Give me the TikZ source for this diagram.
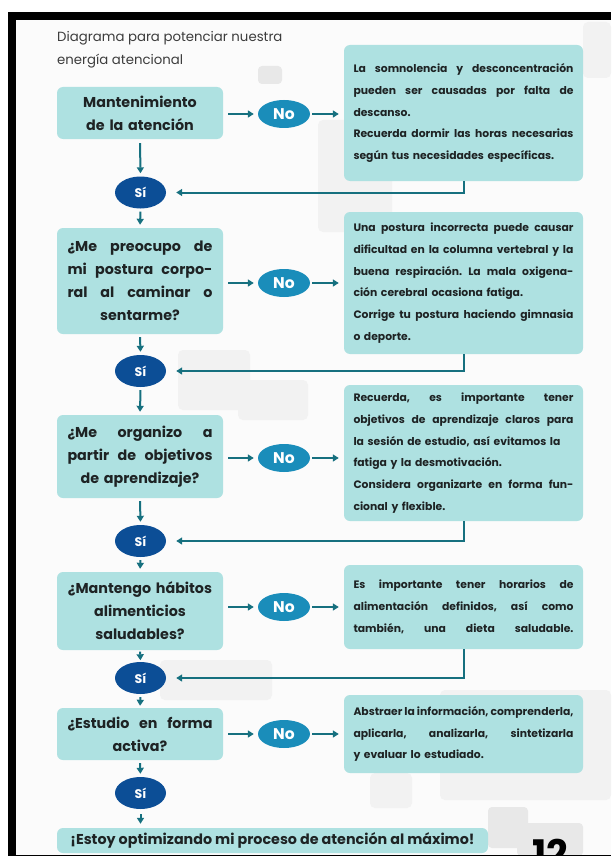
\documentclass[tikz,border=0pt]{standalone}
\usepackage{fontspec}
\setmainfont{Poppins}
\usetikzlibrary{arrows.meta,shapes.geometric}
\definecolor{boxc}{HTML}{AEE1E1}
\definecolor{noc}{HTML}{1A8DBA}
\definecolor{sic}{HTML}{0C4E96}
\definecolor{arrc}{HTML}{16707F}
\definecolor{txtc}{HTML}{1E2324}
\definecolor{titc}{HTML}{3C3C3C}
\definecolor{pagebg}{HTML}{FBFBFB}
\definecolor{sqa}{HTML}{F2F2F2}
\definecolor{sqb}{HTML}{E8E8E8}
\newcommand\qfont{\fontsize{14.3}{23}\selectfont\bfseries}
\newcommand\rfont{\fontsize{10.8}{21.7}\selectfont\bfseries}
\newcommand\jq[1]{\leavevmode\hbox to 145pt{#1}}
\newcommand\jr[1]{\leavevmode\hbox to 220pt{#1}}
\tikzset{
  qbox/.style={fill=boxc, rounded corners=6pt, text=txtc, font=\qfont, align=center, text width=145pt, inner sep=0pt, minimum width=166pt},
  rbox/.style={fill=boxc, rounded corners=6pt, text=txtc, font=\rfont, align=left, text width=220pt, inner sep=0pt, minimum width=239pt},
  noell/.style={ellipse, fill=noc, text=white, font=\fontsize{15.5}{17}\selectfont\bfseries, minimum width=52pt, minimum height=28pt, inner sep=0pt},
  siell/.style={ellipse, fill=sic, text=white, font=\fontsize{12.5}{14}\selectfont\bfseries, minimum width=51pt, minimum height=32pt, inner sep=0pt},
  conn/.style={draw=arrc, line width=2pt, -{Triangle[length=6pt,width=7pt]}},
  bgsq/.style={fill=sqa, rounded corners=5pt},
  bgsqd/.style={fill=sqb, rounded corners=4pt}
}
\begin{document}
\begin{tikzpicture}[x=1pt,y=-1pt]
\useasboundingbox (0,0) rectangle (611,856);
\fill[white] (0,0) rectangle (611,856);
\fill[pagebg] (16,20) rectangle (611,856);
% background decoration
\fill[bgsq] (318,120) rectangle (392,232);
\fill[bgsq] (583,22) rectangle (611,78);
\fill[bgsqd] (258,66) rectangle (282,84);
\fill[bgsq] (178,350) rectangle (250,410);
\fill[bgsq] (238,380) rectangle (308,420);
\fill[bgsq] (160,660) rectangle (272,700);
\fill[bgsq] (370,773) rectangle (412,808);
\fill[bgsq] (440,690) rectangle (611,800);
\fill[bgsqd] (488,807) rectangle (528,848);
\fill[bgsqd] (517,823) rectangle (583,856);
% frame
\fill[black] (8,12) rectangle (611,20);
\fill[black] (8,12) rectangle (16,856);
% title
\node[anchor=north west, align=left, text=titc, font=\fontsize{13.3}{23}\selectfont, inner sep=0pt] (title) at (57,31) {Diagrama para potenciar nuestra\\energía atencional};
% left boxes
\node[qbox, minimum height=52pt] (q1) at (140,113) {Mantenimiento\\de la atención};
\node[qbox, minimum height=106pt] (q2) at (140,281) {\jq{¿Me\hfill preocupo\hfill de}\\\jq{mi\hfill postura\hfill corpo-}\\\jq{ral\hfill al\hfill caminar\hfill o}\\sentarme?};
\node[qbox, minimum height=83pt] (q3) at (140,456.5) {\jq{¿Me\hfill organizo\hfill a}\\\jq{partir\hfill de\hfill objetivos}\\de aprendizaje?};
\node[qbox, minimum height=78pt] (q4) at (140,611) {¿Mantengo hábitos\\alimenticios\\saludables?};
\node[qbox, minimum height=52pt] (q5) at (140,734) {\jq{¿Estudio\hfill en\hfill forma}\\activa?};
\node[fill=boxc, rounded corners=6pt, text=txtc, font=\fontsize{14.3}{16}\selectfont\bfseries, minimum width=431pt, minimum height=25pt, inner sep=0pt] (fin) at (272.5,840.5) {¡Estoy optimizando mi proceso de atención al máximo!};
% No ellipses
\node[noell] (n1) at (284,114) {No};
\node[noell] (n2) at (284,283) {No};
\node[noell] (n3) at (284,458) {No};
\node[noell] (n4) at (284,607) {No};
\node[noell] (n5) at (284,734) {No};
% Si ellipses
\node[siell] (s1) at (140.5,192.5) {Sí};
\node[siell] (s2) at (140.5,371) {Sí};
\node[siell] (s3) at (140.5,541) {Sí};
\node[siell] (s4) at (140.5,678) {Sí};
\node[siell] (s5) at (140.5,793) {Sí};
% right boxes
\node[rbox, minimum height=136pt] (r1) at (463.5,113) {\jr{La\hfill somnolencia\hfill y\hfill desconcentración}\\\jr{pueden\hfill ser\hfill causadas\hfill por\hfill falta\hfill de}\\descanso.\\\jr{Recuerda\hfill dormir\hfill las\hfill horas\hfill necesarias}\\según tus necesidades específicas.};
\node[rbox, minimum height=142pt] (r2) at (463.5,283) {\jr{Una\hfill postura\hfill incorrecta\hfill puede\hfill causar}\\\jr{dificultad\hfill en\hfill la\hfill columna\hfill vertebral\hfill y\hfill la}\\\jr{buena\hfill respiración.\hfill La\hfill mala\hfill oxigena-}\\ción cerebral ocasiona fatiga.\\\jr{Corrige\hfill tu\hfill postura\hfill haciendo\hfill gimnasia}\\o deporte.};
\node[rbox, minimum height=136pt] (r3) at (463.5,453) {\jr{Recuerda,\hfill es\hfill importante\hfill tener}\\\jr{objetivos\hfill de\hfill aprendizaje\hfill claros\hfill para}\\la sesión de estudio, así evitamos la\\fatiga y la desmotivación.\\\jr{Considera\hfill organizarte\hfill en\hfill forma\hfill fun-}\\cional y flexible.};
\node[rbox, minimum height=84pt] (r4) at (463.5,607) {\jr{Es\hfill importante\hfill tener\hfill horarios\hfill de}\\\jr{alimentación\hfill definidos,\hfill así\hfill como}\\\jr{también,\hfill una\hfill dieta\hfill saludable.}};
\node[rbox, minimum height=78pt] (r5) at (463.5,734) {\jr{Abstraer\hfill la\hfill información,\hfill comprenderla,}\\\jr{aplicarla,\hfill analizarla,\hfill sintetizarla}\\y evaluar lo estudiado.};
% page number
\begin{scope}
\clip (0,0) rectangle (611,854.5);
\node[anchor=north west, font=\fontsize{38}{40}\selectfont\bfseries, text=black, inner sep=0pt] (pg) at (532,839) {12};
\end{scope}
\fill[black] (8,854.5) rectangle (611,856);
% connectors
\foreach \i in {1,...,5} {
  \draw[conn, shorten <=5pt, shorten >=4pt] (q\i.east |- n\i.west) -- (n\i.west);
  \draw[conn, shorten <=2pt, shorten >=5pt] (n\i.east) -- (r\i.west |- n\i.east);
}
\draw[conn, shorten <=4pt, shorten >=3pt] (q1.south) -- (s1.north);
\draw[conn, shorten <=3pt, shorten >=3pt] (q2.south) -- (s2.north);
\draw[conn, shorten <=3pt, shorten >=3pt] (q3.south) -- (s3.north);
\draw[conn, shorten <=1.5pt, shorten >=1.5pt] (q4.south) -- (s4.north);
\draw[conn, shorten <=3pt, shorten >=3pt] (q5.south) -- (s5.north);
\foreach \i in {1,...,4} {
  \draw[conn, shorten >=10pt] (r\i.south) -- (r\i.south |- s\i.east) -- (s\i.east);
}
\draw[conn, shorten <=3pt, shorten >=3pt] (s1.south) -- (q2.north);
\draw[conn, shorten <=3pt, shorten >=3pt] (s2.south) -- (q3.north);
\draw[conn, shorten <=3pt, shorten >=3pt] (s3.south) -- (q4.north);
\draw[conn, shorten <=3pt, shorten >=2pt] (s4.south) -- (q5.north);
\draw[conn, shorten <=5pt, shorten >=4pt] (s5.south) -- (fin.north -| s5.south);
\end{tikzpicture}
\end{document}
